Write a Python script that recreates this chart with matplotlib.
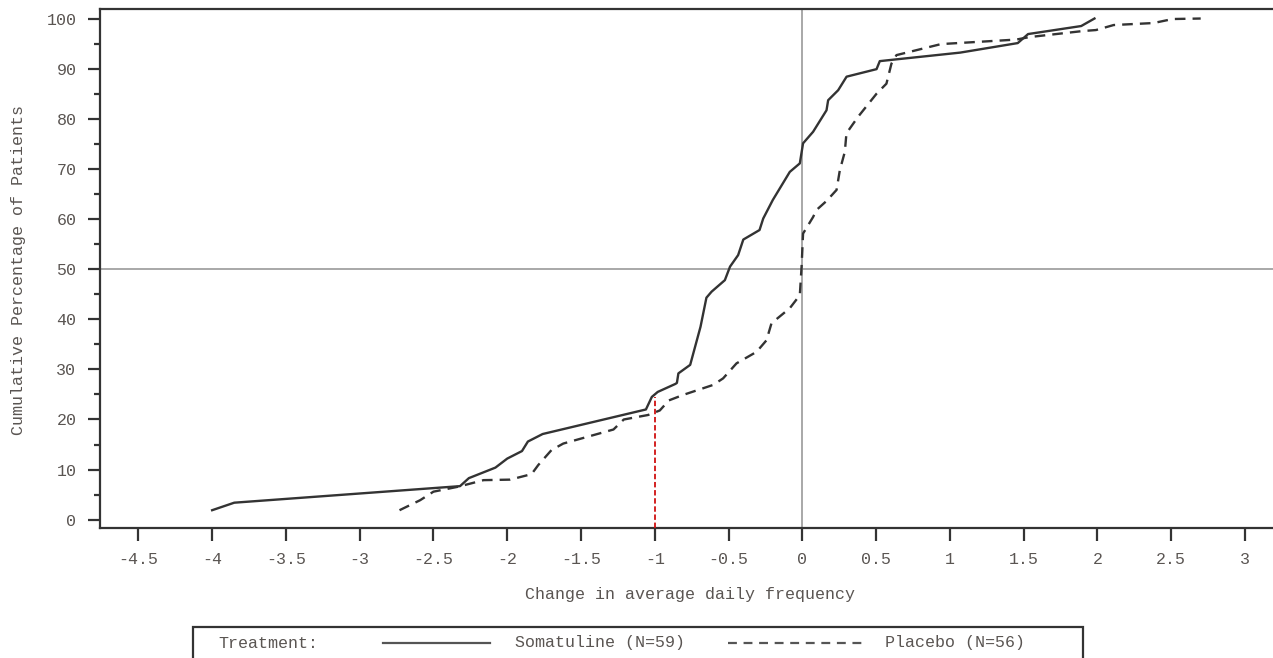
import numpy as np
import matplotlib.pyplot as plt
from matplotlib.patches import Rectangle
from matplotlib.lines import Line2D

soma_x = [-4.0, -3.85, -2.32, -2.26, -2.08, -2.0, -1.9, -1.86, -1.76, -1.06, -1.02,
          -0.98, -0.86, -0.85, -0.84, -0.76, -0.69, -0.65, -0.615, -0.525, -0.49,
          -0.435, -0.40, -0.29, -0.265, -0.20, -0.085, -0.017, 0.005, 0.073, 0.164,
          0.175, 0.243, 0.30, 0.503, 0.525, 0.62, 1.07, 1.46, 1.53, 1.89, 1.98]
soma_y = [1.9, 3.4, 6.7, 8.3, 10.4, 12.2, 13.7, 15.6, 17.1, 22.0, 24.5,
          25.5, 27.1, 27.3, 29.2, 30.9, 38.5, 44.3, 45.5, 47.8, 50.5,
          52.8, 55.9, 57.8, 60.1, 63.8, 69.4, 71.1, 75.1, 77.4, 81.7,
          83.7, 85.7, 88.4, 89.9, 91.5, 91.8, 93.2, 95.1, 96.9, 98.5, 100.0]

plac_x = [-2.73, -2.59, -2.50, -2.33, -2.16, -1.98, -1.835, -1.79, -1.70, -1.62,
          -1.28, -1.21, -1.045, -0.966, -0.905, -0.808, -0.604, -0.537, -0.446,
          -0.31, -0.243, -0.209, -0.085, -0.017, -0.005, 0.005, 0.073, 0.096,
          0.164, 0.232, 0.254, 0.288, 0.299, 0.378, 0.503, 0.57, 0.604, 0.638,
          0.94, 1.45, 1.54, 1.90, 1.99, 2.11, 2.38, 2.51, 2.70]
plac_y = [1.9, 3.9, 5.6, 6.6, 7.9, 8.0, 9.1, 10.9, 13.9, 15.2,
          18.0, 20.0, 20.9, 21.8, 23.8, 24.9, 26.9, 28.2, 31.2,
          33.5, 35.8, 39.2, 42.2, 44.8, 50.5, 57.1, 60.4, 61.8,
          63.6, 65.8, 69.7, 73.4, 77.1, 80.4, 85.0, 87.0, 91.0, 92.7,
          94.9, 95.8, 96.3, 97.5, 97.7, 98.7, 99.1, 99.9, 100.0]

x_ticks = [-4.5, -4, -3.5, -3, -2.5, -2, -1.5, -1, -0.5, 0, 0.5, 1, 1.5, 2, 2.5, 3]
x_labels = ['-4.5', '-4', '-3.5', '-3', '-2.5', '-2', '-1.5', '-1', '-0.5', '0',
            '0.5', '1', '1.5', '2', '2.5', '3']
y_ticks = [0, 10, 20, 30, 40, 50, 60, 70, 80, 90, 100]

mono = 'Liberation Mono'
txt = '#5a5552'
ink = '#333333'

fig = plt.figure(figsize=(12.73, 6.58), dpi=100)
ax = fig.add_axes([100/1273, 1 - 528/658, 1 - 100/1273, (528 - 9)/658])

ax.axvline(0, color='#999999', lw=1.2, zorder=1)
ax.axhline(50, color='#999999', lw=1.2, zorder=1)
ax.plot(soma_x, soma_y, color=ink, lw=1.7, zorder=3)
ax.plot(plac_x, plac_y, color=ink, lw=1.7, dashes=(4.5, 3), zorder=3)
ax.plot([-1, -1], [-1.65, 24.5], color='#d01010', lw=1.3, dashes=(3, 1.5), zorder=4)

ax.set_xlim(-4.76, 3.19)
ax.set_ylim(-1.65, 101.9)
ax.set_xticks(x_ticks)
ax.set_xticklabels(x_labels)
ax.set_yticks(y_ticks)
ax.set_yticks([5, 15, 25, 35, 45, 55, 65, 75, 85, 95], minor=True)
ax.tick_params(axis='both', which='major', length=9, width=1.6, color=ink,
               labelsize=12, labelcolor=txt, pad=8)
ax.tick_params(axis='y', which='minor', length=4, width=1.6, color=ink)
for lab in ax.get_xticklabels() + ax.get_yticklabels():
    lab.set_fontfamily(mono)
for side in ['left', 'bottom', 'top']:
    ax.spines[side].set_linewidth(1.6)
    ax.spines[side].set_color(ink)
ax.spines['right'].set_visible(False)

fig.text(690/1273, 1 - 595/658, 'Change in average daily frequency', ha='center',
         va='center', fontsize=12, family=mono, color=txt)
fig.text(19/1273, 1 - 270/658, 'Cumulative Percentage of Patients', ha='center',
         va='center', rotation=90, fontsize=12, family=mono, color=txt)

# legend box
fig.patches.append(Rectangle((193/1273, -0.05), (1083 - 193)/1273, 0.05 + 1 - 627/658,
                             transform=fig.transFigure, fill=False, lw=1.6, ec=ink))
ly = 1 - 643/658
fig.text(218/1273, ly, 'Treatment:', va='center', fontsize=12, family=mono, color=txt)
fig.lines.append(Line2D([383/1273, 490/1273], [ly, ly], transform=fig.transFigure,
                        color='#555555', lw=1.6))
fig.text(515/1273, ly, 'Somatuline (N=59)', va='center', fontsize=12, family=mono, color=txt)
fig.lines.append(Line2D([728/1273, 862/1273], [ly, ly], transform=fig.transFigure,
                        color='#555555', lw=1.6, dashes=(4, 3)))
fig.text(885/1273, ly, 'Placebo (N=56)', va='center', fontsize=12, family=mono, color=txt)

fig.savefig('out.png', dpi=100)
